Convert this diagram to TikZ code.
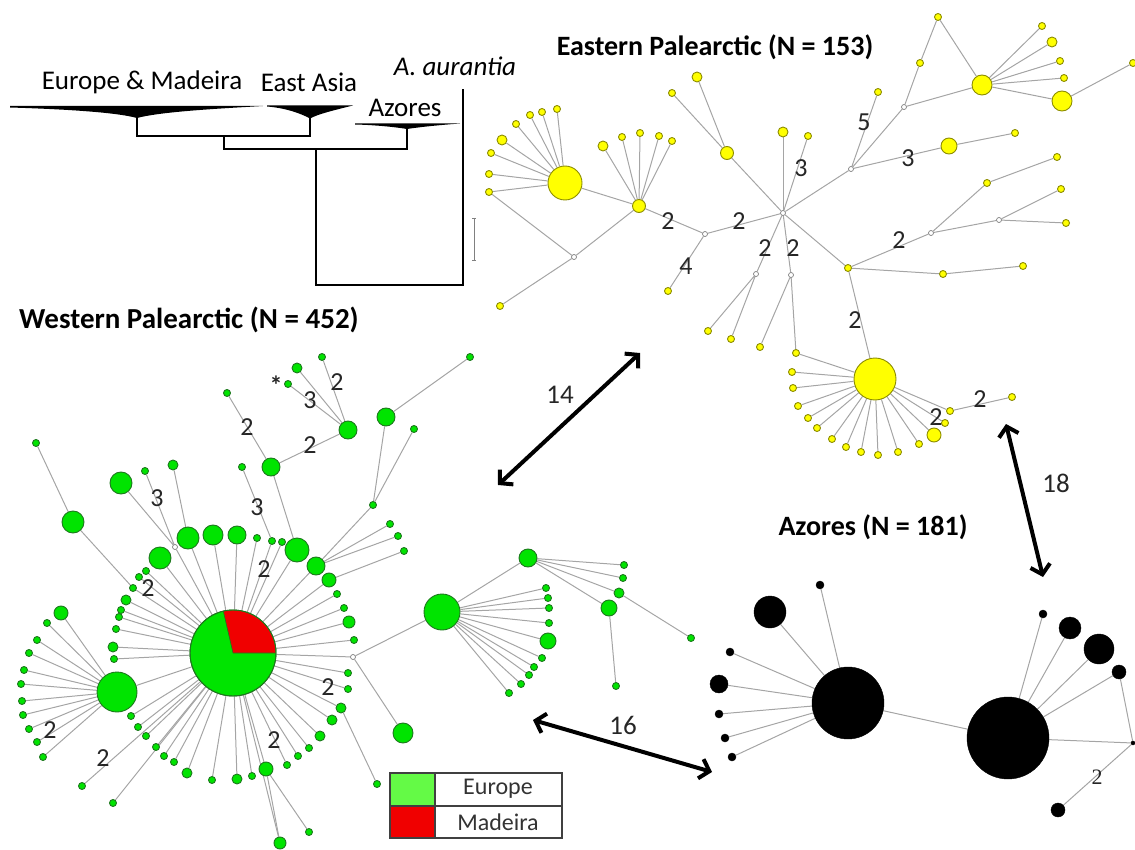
\documentclass[tikz,border=0pt]{standalone}
\usepackage{fontspec}
\setmainfont{Carlito}
\newfontfamily\timesfont{Liberation Serif}
\usetikzlibrary{arrows.meta,backgrounds}
\definecolor{gfill}{RGB}{0,228,0}
\definecolor{gdraw}{RGB}{30,120,30}
\definecolor{yfill}{RGB}{255,255,0}
\definecolor{ydraw}{RGB}{140,140,0}
\definecolor{edgecol}{RGB}{165,165,165}
\definecolor{leggreen}{RGB}{100,250,70}
\definecolor{pier}{RGB}{240,0,0}
\newcommand\myfs[1]{\fontsize{#1}{#1}\selectfont}
\tikzset{
 gn/.style={circle,fill=gfill,draw=gdraw,line width=0.9pt,inner sep=0pt,minimum size=#1pt},
 yn/.style={circle,fill=yfill,draw=ydraw,line width=0.9pt,inner sep=0pt,minimum size=#1pt},
 bn/.style={circle,fill=black,draw=black,inner sep=0pt,minimum size=#1pt},
 med/.style={circle,fill=white,draw=gray,line width=0.7pt,inner sep=0pt,minimum size=5pt},
 edge/.style={draw=edgecol,line width=1pt},
 lab/.style={font=\myfs{26},inner sep=0pt,text=black!85},
 ttl/.style={font=\myfs{28}\bfseries,inner sep=0pt},
 treetxt/.style={font=\myfs{27},inner sep=0pt},
 treeline/.style={draw=black,line width=1.2pt},
 bigarrow/.style={line width=4pt,{Straight Barb[length=9pt,width=20pt]}-{Straight Barb[length=9pt,width=20pt]}},
 arrlab/.style={font=\myfs{27},inner sep=0pt,text=black!85},
 legtxt/.style={font=\myfs{24},inner sep=0pt,text=black!80}
}
\begin{document}
\begin{tikzpicture}[x=1pt,y=-1pt]
\useasboundingbox (0,0) rectangle (1135,850);

% ---------------- tree ----------------
\fill (10,106) -- (263,106) .. controls (210,109) and (160,112) .. (137,118)
      .. controls (115,112) and (60,109) .. (10,107.5) -- cycle;
\fill (267,105.5) -- (353,105.5) .. controls (335,110) and (318,114) .. (310,118.5)
      .. controls (300,113) and (285,108) .. (267,106.5) -- cycle;
\fill (355,123.5) -- (460,123.5) .. controls (440,125) and (420,127) .. (407,129)
      .. controls (395,127) and (375,125) .. (355,124.5) -- cycle;
\draw[treeline] (137,117) -- (137,136) -- (310,136) -- (310,118);
\draw[treeline] (224,136) -- (224,149) -- (407,149) -- (407,128);
\draw[treeline] (316,149) -- (316,285) -- (463,285) -- (463,89);
\draw[gray,line width=0.5pt] (474,218) -- (474,260) (472,218) -- (476,218) (472,260) -- (476,260);
\node[treetxt] (tEM) at (142,82) {Europe \& Madeira};
\node[treetxt] (tEA) at (309,82) {East Asia};
\node[treetxt] (tAz) at (405,108) {Azores};
\node[treetxt] (tAa) at (455,66) {\itshape A. aurantia};

% ---------------- titles ----------------
\node[ttl] (ttE) at (715,47) {Eastern Palearctic (N = 153)};
\node[ttl,font=\myfs{29}\bfseries] (ttW) at (189,320) {Western Palearctic (N = 452)};
\node[ttl] (ttA) at (873,527) {Azores (N = 181)};

% ---------------- Eastern (yellow) ----------------
\node[yn=34] (eA) at (565,183) {};
\node[yn=10] (eA1) at (502,140) {};
\node[yn=7] (eA2) at (516,124) {};
\node[yn=7] (eA3) at (530,115) {};
\node[yn=7] (eA4) at (542,112) {};
\node[yn=7] (eA5) at (557,109) {};
\node[yn=7] (eA6) at (491,153) {};
\node[yn=7] (eA7) at (489,174) {};
\node[yn=7] (eA8) at (489,192) {};
\node[yn=13] (eB) at (639,206) {};
\node[yn=10] (eB1) at (603,146) {};
\node[yn=7] (eB2) at (622,137) {};
\node[yn=7] (eB3) at (640,133) {};
\node[yn=7] (eB4) at (659,136) {};
\node[yn=7] (eB5) at (672,141) {};
\node[med] (em1) at (574,257) {};
\node[yn=7] (eL1) at (500,306) {};
\node[med] (eC) at (705,234) {};
\node[yn=7] (eC1) at (668,291) {};
\node[med] (eD) at (783,213) {};
\node[yn=13] (eE) at (727,153) {};
\node[yn=7] (eE1) at (672,93) {};
\node[yn=10] (eE2) at (697,77) {};
\node[yn=10] (eD1) at (783,132) {};
\node[yn=7] (eD2) at (808,136) {};
\node[med] (em2) at (756,274) {};
\node[med] (em3) at (791,275) {};
\node[med] (eF) at (851,169) {};
\node[yn=7] (eF1) at (878,92) {};
\node[med] (eH) at (904,107) {};
\node[yn=7] (eH1) at (920,63) {};
\node[yn=7] (eH2) at (938,17) {};
\node[yn=20] (eJ) at (982,85) {};
\node[yn=7] (eJ1) at (1042,26) {};
\node[yn=10] (eJ2) at (1052,42) {};
\node[yn=7] (eJ3) at (1060,61) {};
\node[yn=7] (eJ4) at (1064,78) {};
\node[yn=20] (eK) at (1062,101) {};
\node[yn=7] (eK1) at (1133,63) {};
\node[yn=16] (eI) at (949,146) {};
\node[yn=7] (eI1) at (1015,133) {};
\node[yn=7] (eG) at (848,268) {};
\node[med] (eL) at (931,233) {};
\node[yn=7] (eM) at (987,183) {};
\node[yn=7] (eM1) at (1057,157) {};
\node[med] (eN) at (999,220) {};
\node[yn=7] (eN1) at (1061,189) {};
\node[yn=7] (eN2) at (1066,223) {};
\node[yn=7] (eG1) at (943,274) {};
\node[yn=7] (eG2) at (1023,266) {};
\node[yn=42] (eP) at (875,379) {};
\node[yn=7] (ma) at (708,331) {};
\node[yn=7] (mb) at (731,339) {};
\node[yn=7] (mc) at (760,347) {};
\node[yn=7] (md) at (796,353) {};
\node[yn=7] (p1) at (792,372) {};
\node[yn=7] (p2) at (793,388) {};
\node[yn=7] (p3) at (798,406) {};
\node[yn=7] (p4) at (808,418) {};
\node[yn=7] (p5) at (817,428) {};
\node[yn=7] (p6) at (832,439) {};
\node[yn=7] (p7) at (846,447) {};
\node[yn=7] (p8) at (861,452) {};
\node[yn=7] (p9) at (878,455) {};
\node[yn=7] (p10) at (898,452) {};
\node[yn=7] (p11) at (919,444) {};
\node[yn=14] (p12) at (934,435) {};
\node[yn=7] (p13) at (945,423) {};
\node[yn=7] (p14) at (950,411) {};
\node[yn=7] (p15) at (1012,397) {};

% ---------------- Azores (black) ----------------
\node[bn=72] (bQ) at (848,703) {};
\node[bn=82] (bR) at (1008,738) {};
\node[bn=32] (bQ1) at (770,612) {};
\node[bn=8] (bQ2) at (820,585) {};
\node[bn=8] (bQ3) at (730,652) {};
\node[bn=18] (bQ4) at (719,684) {};
\node[bn=8] (bQ5) at (719,714) {};
\node[bn=8] (bQ6) at (725,738) {};
\node[bn=8] (bQ7) at (732,757) {};
\node[bn=8] (bR1) at (1043,614) {};
\node[bn=22] (bR2) at (1070,628) {};
\node[bn=30] (bR3) at (1099,649) {};
\node[bn=14] (bR4) at (1119,672) {};
\node[bn=4] (bS) at (1133,743) {};
\node[bn=14] (bS1) at (1058,810) {};

% ---------------- Western (green) ----------------
\node[gn=86] (H0) at (233,653) {};
\node[gn=40] (W2) at (117,692) {};
\node[gn=14] (w1) at (61,613) {};
\node[gn=7] (w2) at (47,623) {};
\node[gn=7] (w3) at (37,640) {};
\node[gn=7] (w4) at (29,653) {};
\node[gn=7] (w5) at (24,670) {};
\node[gn=7] (w6) at (21,684) {};
\node[gn=7] (w7) at (22,701) {};
\node[gn=7] (w8) at (23,715) {};
\node[gn=7] (w9) at (29,729) {};
\node[gn=7] (w10) at (37,742) {};
\node[gn=7] (w11) at (43,757) {};
\node[gn=22] (r1) at (160,558) {};
\node[gn=22] (r2) at (188,538) {};
\node[gn=20] (r3) at (213,535) {};
\node[gn=18] (r4) at (237,535) {};
\node[gn=7] (r5) at (257,538) {};
\node[gn=7] (r6) at (272,541) {};
\node[gn=7] (r7) at (282,542) {};
\node[gn=24] (r8) at (297,550) {};
\node[gn=18] (r9) at (316,566) {};
\node[gn=14] (r10) at (329,580) {};
\node[gn=7] (r11) at (337,594) {};
\node[gn=7] (r12) at (344,608) {};
\node[gn=12] (r13) at (349,622) {};
\node[gn=7] (r14) at (354,640) {};
\node[med] (gm) at (353,657) {};
\node[gn=7] (r15) at (348,673) {};
\node[gn=7] (r16) at (348,689) {};
\node[gn=10] (r17) at (341,708) {};
\node[gn=10] (r18) at (332,720) {};
\node[gn=10] (r19) at (320,736) {};
\node[gn=7] (r20) at (309,748) {};
\node[gn=7] (r21) at (298,756) {};
\node[gn=7] (r22) at (287,765) {};
\node[gn=14] (r23) at (266,769) {};
\node[gn=7] (r24) at (252,776) {};
\node[gn=10] (r25) at (237,779) {};
\node[gn=7] (r26) at (212,780) {};
\node[gn=10] (r27) at (187,773) {};
\node[gn=7] (r28) at (174,762) {};
\node[gn=7] (r29) at (164,756) {};
\node[gn=7] (r30) at (156,747) {};
\node[gn=7] (r31) at (146,736) {};
\node[gn=7] (r32) at (138,727) {};
\node[gn=7] (r33) at (131,716) {};
\node[gn=7] (r34) at (114,659) {};
\node[gn=10] (r35) at (113,647) {};
\node[gn=7] (r36) at (116,629) {};
\node[gn=7] (r37) at (119,617) {};
\node[gn=7] (r38) at (121,610) {};
\node[gn=10] (r39) at (126,600) {};
\node[gn=7] (r40) at (133,588) {};
\node[gn=7] (r41) at (139,577) {};
\node[gn=7] (r42) at (146,571) {};
\node[med] (gm2) at (175,547) {};
\node[gn=7] (gL1) at (82,786) {};
\node[gn=7] (gL2) at (113,803) {};
\node[gn=12] (gB1) at (280,843) {};
\node[gn=7] (gB2) at (309,832) {};
\node[gn=20] (gM1) at (403,733) {};
\node[gn=7] (gM2) at (377,784) {};
\node[gn=36] (BG) at (442,612) {};
\node[gn=7] (bg1) at (546,588) {};
\node[gn=7] (bg2) at (548,598) {};
\node[gn=7] (bg3) at (549,608) {};
\node[gn=7] (bg4) at (549,623) {};
\node[gn=16] (bg5) at (548,641) {};
\node[gn=7] (bg6) at (542,658) {};
\node[gn=7] (bg7) at (534,667) {};
\node[gn=7] (bg8) at (529,675) {};
\node[gn=7] (bg9) at (521,684) {};
\node[gn=7] (bg10) at (509,693) {};
\node[gn=18] (T) at (528,558) {};
\node[gn=7] (t1) at (624,565) {};
\node[gn=7] (t2) at (623,578) {};
\node[gn=10] (t3) at (619,593) {};
\node[gn=16] (t4) at (609,608) {};
\node[gn=7] (t5) at (691,638) {};
\node[gn=7] (t6) at (616,686) {};
\node[gn=7] (u1) at (36,443) {};
\node[gn=22] (u2) at (73,522) {};
\node[gn=22] (u3) at (121,483) {};
\node[gn=7] (u4) at (145,471) {};
\node[gn=10] (u5) at (173,465) {};
\node[gn=7] (u6) at (242,467) {};
\node[gn=18] (u7) at (271,467) {};
\node[gn=7] (u8) at (227,393) {};
\node[gn=18] (u9) at (348,430) {};
\node[gn=10] (u10) at (297,368) {};
\node[gn=7] (u11) at (322,357) {};
\node[gn=7] (u12) at (288,384) {};
\node[gn=7] (u13) at (373,505) {};
\node[gn=18] (u14) at (386,417) {};
\node[gn=7] (u15) at (414,429) {};
\node[gn=7] (u16) at (470,357) {};
\node[gn=7] (rr1) at (390,524) {};
\node[gn=7] (rr2) at (398,536) {};
\node[gn=7] (rr3) at (404,551) {};

% pie sector of the main haplotype
\begin{scope}[shift={(233,653)},x=1pt,y=1pt]
 \fill[pier] (0,0) -- (0:42.6) arc[start angle=0,end angle=103,radius=42.6] -- cycle;
 \draw[gdraw,line width=0.6pt] (0,0) -- (0:42.6) (0,0) -- (103:42.6);
 \draw[gdraw,line width=0.9pt] (0,0) circle[radius=43];
\end{scope}

% ---------------- edges ----------------
\begin{pgfonlayer}{background}
\foreach \n in {eA1,eA2,eA3,eA4,eA5,eA6,eA7,eA8,eB} \draw[edge] (eA) -- (\n);
\foreach \n in {eB1,eB2,eB3,eB4,eB5,em1,eC} \draw[edge] (eB) -- (\n);
\draw[edge] (eA8) -- (em1) (em1) -- (eL1);
\draw[edge] (eC) -- (eD) (eC) -- (eC1);
\foreach \n in {eE,eD1,eD2,em2,em3,eF,eG} \draw[edge] (eD) -- (\n);
\draw[edge] (eE) -- (eE1) (eE) -- (eE2);
\draw[edge] (eF) -- (eF1) (eF) -- (eH) (eF) -- (eI) (eI) -- (eI1);
\draw[edge] (eH) -- (eH1) (eH1) -- (eH2) (eH2) -- (eJ) (eH) -- (eJ);
\foreach \n in {eJ1,eJ2,eJ3,eJ4,eK} \draw[edge] (eJ) -- (\n);
\draw[edge] (eK) -- (eK1);
\draw[edge] (eG) -- (eL) (eL) -- (eM) (eM) -- (eM1) (eL) -- (eN) (eN) -- (eN1) (eN) -- (eN2);
\draw[edge] (eG) -- (eG1) (eG1) -- (eG2) (eG) -- (eP);
\draw[edge] (em2) -- (ma) (em2) -- (mb) (em3) -- (mc) (em3) -- (md) (md) -- (eP);
\foreach \n in {p1,p2,p3,p4,p5,p6,p7,p8,p9,p10,p11,p12,p13,p14} \draw[edge] (eP) -- (\n);
\draw[edge] (p14) -- (p15);
% black
\draw[edge] (bQ) -- (bR);
\foreach \n in {bQ1,bQ2,bQ3,bQ4,bQ5,bQ6,bQ7} \draw[edge] (bQ) -- (\n);
\foreach \n in {bR1,bR2,bR3,bR4,bS} \draw[edge] (bR) -- (\n);
\draw[edge] (bR4) -- (bS) (bS) -- (bS1);
% green
\foreach \n in {w1,w2,w3,w4,w5,w6,w7,w8,w9,w10,w11} \draw[edge] (W2) -- (\n);
\foreach \n in {W2,r1,r2,r3,r4,r5,r6,r7,r8,r9,r10,r11,r12,r13,r14,gm,r15,r16,r17,r18,r19,r20,r21,r22,r23,r24,r25,r26,r27,r28,r29,r30,r31,r32,r33,r34,r35,r36,r37,r38,r39,r40,r41,r42,gm2,gL1,gL2,gB1}
  \draw[edge] (H0) -- (\n);
\draw[edge] (r23) -- (gB1) (r23) -- (gB2) (r17) -- (gM2);
\draw[edge] (gm) -- (BG) (gm) -- (gM1);
\foreach \n in {bg1,bg2,bg3,bg4,bg5,bg6,bg7,bg8,bg9,bg10,T} \draw[edge] (BG) -- (\n);
\foreach \n in {t1,t2,t3,t4} \draw[edge] (T) -- (\n);
\draw[edge] (t3) -- (t5) (t4) -- (t6);
\draw[edge] (u1) -- (u2) (u2) -- (r40);
\draw[edge] (u3) -- (gm2) (u4) -- (gm2) (u5) -- (r2) (u6) -- (r6) (u7) -- (r8);
\draw[edge] (u8) -- (u7) (u9) -- (u7) (u10) -- (u9) (u11) -- (u9) (u12) -- (u9);
\draw[edge] (u13) -- (r9) (u14) -- (u13) (u15) -- (u13) (u16) -- (u14);
\draw[edge] (r9) -- (rr1) (r9) -- (rr2) (r10) -- (rr3);
\end{pgfonlayer}

% ---------------- labels ----------------
\node[lab] (l1) at (668,221) {2};
\node[lab] (l2) at (739,221) {2};
\node[lab] (l3) at (686,266) {4};
\node[lab] (l4) at (801,168) {3};
\node[lab] (l5) at (765,248) {2};
\node[lab] (l6) at (793,248) {2};
\node[lab] (l7) at (864,122) {5};
\node[lab] (l8) at (908,158) {3};
\node[lab] (l9) at (899,240) {2};
\node[lab] (l10) at (855,320) {2};
\node[lab] (l11) at (936,417) {2};
\node[lab] (l12) at (980,399) {2};
\node[lab] (g1) at (148,588) {2};
\node[lab] (g2) at (328,687) {2};
\node[lab] (g3) at (274,740) {2};
\node[lab] (g4) at (103,758) {2};
\node[lab] (g5) at (50,730) {2};
\node[lab] (g6) at (264,569) {2};
\node[lab] (g7) at (157,498) {3};
\node[lab] (g8) at (257,507) {3};
\node[lab] (g9) at (247,427) {2};
\node[lab] (g10) at (310,445) {2};
\node[lab] (g11) at (337,382) {2};
\node[lab] (g12) at (310,400) {3};
\node[lab] (gast) at (276,385) {\bfseries *};
\node[lab,font=\myfs{22}\timesfont] (b1) at (1097,777) {2};

% ---------------- arrows ----------------
\coordinate (a14a) at (498,485);
\coordinate (a14b) at (640,353);
\coordinate (a18a) at (1006,424);
\coordinate (a18b) at (1043,577);
\coordinate (a16a) at (533,720);
\coordinate (a16b) at (712,772);
\draw[bigarrow] (a14a) -- (a14b);
\draw[bigarrow] (a18a) -- (a18b);
\draw[bigarrow] (a16a) -- (a16b);
\node[arrlab] (n14) at (560,395) {14};
\node[arrlab] (n18) at (1056,483) {18};
\node[arrlab] (n16) at (623,725) {16};

% ---------------- legend ----------------
\fill[leggreen] (390,773) rectangle (435,806);
\fill[pier] (390,806) rectangle (435,838);
\draw[black!75,line width=1.2pt] (390,773) rectangle (562,838) (390,806) -- (562,806) (435,773) -- (435,838);
\node[legtxt] (lgE) at (498,789) {Europe};
\node[legtxt] (lgM) at (498,822) {Madeira};
\end{tikzpicture}
\end{document}
